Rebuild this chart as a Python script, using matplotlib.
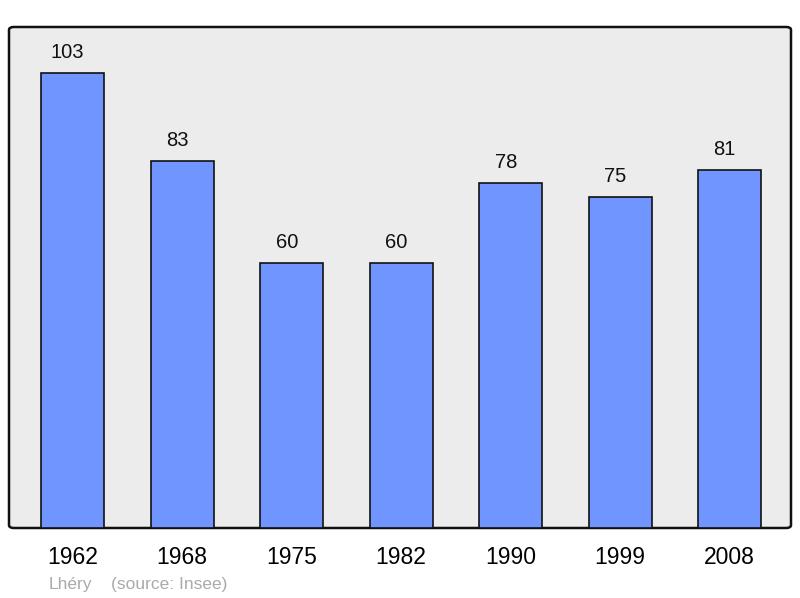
import matplotlib.pyplot as plt
from matplotlib.patches import FancyBboxPatch

# Population data
years = ['1962', '1968', '1975', '1982', '1990', '1999', '2008']
population = [103, 83, 60, 60, 78, 75, 81]

plt.rcParams['font.family'] = ['Liberation Sans', 'DejaVu Sans']

fig = plt.figure(figsize=(8, 5.98), dpi=100)
ax = fig.add_axes([9 / 800, 70 / 598, 782 / 800, 501 / 598])

ax.set_facecolor('none')
# rounded frame behind the bars
frame = FancyBboxPatch((0, 0), 1, 1, boxstyle='round,pad=0,rounding_size=0.006',
                       transform=ax.transAxes, facecolor='#ececec',
                       edgecolor='#111111', linewidth=1.8, zorder=0, clip_on=False)
ax.add_patch(frame)

x = range(len(years))
ax.bar(x, population, width=0.575, color='#7095ff', edgecolor='#111111',
       linewidth=1.2, zorder=2)

for xi, v in zip(x, population):
    ax.annotate(str(v), (xi, v), xytext=(-3.5, 8), textcoords='offset points',
                ha='center', va='bottom', fontsize=14.5, color='#111111')

ax.set_xlim(-0.58, 6.56)
ax.set_ylim(0, 113.4)
ax.set_xticks(list(x))
ax.set_xticklabels(years, fontsize=16.5)
ax.tick_params(axis='x', length=0, pad=13)
ax.set_yticks([])
for s in ax.spines.values():
    s.set_visible(False)

fig.text(49 / 800, 1 - 584 / 598, 'Lhéry', fontsize=12.5, color='#aaaaaa', va='center')
fig.text(111 / 800, 1 - 584 / 598, '(source: Insee)', fontsize=12.5, color='#aaaaaa', va='center')

fig.savefig('out.png', dpi=100)
